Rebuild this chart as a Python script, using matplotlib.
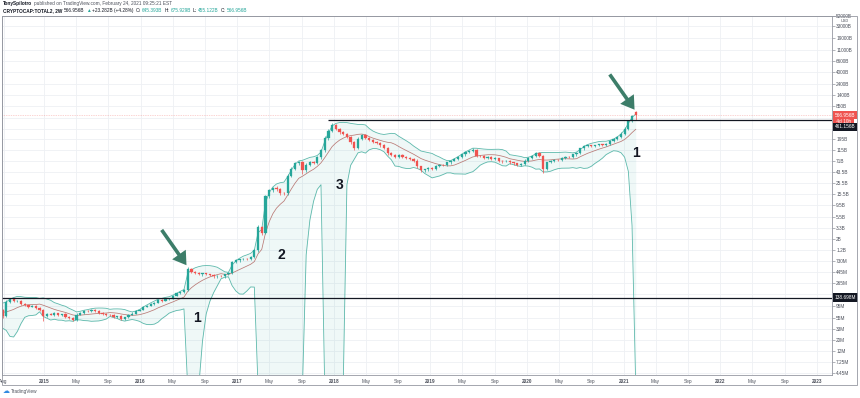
import numpy as np
import pandas as pd
import matplotlib
matplotlib.use('Agg')
import matplotlib.pyplot as plt
import matplotlib.dates as mdates
from matplotlib.patches import Rectangle
from matplotlib.ticker import NullLocator

plt.rcParams['font.family'] = ['Liberation Sans', 'DejaVu Sans']

# CRYPTOCAP:TOTAL2, 2W bars, values in billions USD
first_bar = '2014-07-28'
# history left of the visible range, only feeds the bands
pre_closes = [0.100, 0.090, 0.070, 0.050, 0.045, 0.050, 0.075, 0.090, 0.080]
closes = [
    0.060, 0.113, 0.128, 0.118, 0.121, 0.102, 0.098, 0.091, 0.094, 0.086,
    0.080, 0.060, 0.066, 0.064, 0.068, 0.063, 0.065, 0.058, 0.055, 0.049,
    0.064, 0.070, 0.076, 0.074, 0.079, 0.075, 0.070, 0.066, 0.063, 0.062,
    0.057, 0.059, 0.052, 0.056, 0.064, 0.067, 0.076, 0.080, 0.092, 0.096,
    0.104, 0.110, 0.124, 0.120, 0.128, 0.133, 0.152, 0.168, 0.182, 0.194,
    0.520, 0.450, 0.425, 0.410, 0.418, 0.400, 0.392, 0.372, 0.378, 0.365,
    0.400, 0.420, 0.700, 0.760, 0.790, 0.820, 0.800, 0.900, 1.20, 3.40,
    2.70, 14.0, 18.4, 20.5, 19.5, 16.5, 16.0, 36.0, 50.0, 63.0,
    66.0, 46.0, 60.0, 66.0, 64.0, 83.0, 114.0, 205.0, 282.0, 370.0,
    310.0, 265.0, 240.0, 215.0, 165.0, 130.0, 195.0, 235.0, 205.0, 185.0,
    170.0, 160.0, 143.0, 130.0, 100.0, 92.0, 86.0, 93.0, 84.0, 82.0,
    78.0, 72.0, 55.0, 46.0, 48.0, 52.0, 50.0, 57.0, 60.0, 58.0,
    66.0, 72.0, 76.0, 86.0, 95.0, 104.0, 112.0, 119.0, 90.0, 88.0,
    82.0, 85.0, 78.0, 80.0, 72.0, 69.0, 71.0, 66.0, 63.0, 60.0,
    62.0, 72.0, 82.0, 90.0, 100.0, 90.0, 50.0, 66.0, 70.0, 75.0,
    73.0, 82.0, 86.0, 84.0, 95.0, 100.0, 125.0, 137.0, 143.0, 140.0,
    145.0, 150.0, 148.0, 155.0, 179.0, 195.0, 215.0, 245.0, 310.0, 430.0,
    543.674, 566.956]
last_open = 645.393
# wick lengths beyond the body, percent
wick_up_pct = [
    4, 12, 5, 3, 4, 3, 5, 3, 4, 3,
    3, 4, 5, 3, 4, 3, 3, 4, 3, 4,
    5, 4, 3, 4, 3, 4, 3, 3, 4, 3,
    4, 3, 4, 3, 4, 5, 3, 4, 5, 4,
    3, 5, 4, 3, 4, 3, 5, 4, 3, 5,
    8, 4, 3, 3, 4, 3, 3, 4, 3, 3,
    3, 4, 6, 4, 3, 4, 3, 5, 6, 10,
    8, 9, 7, 6, 8, 6, 5, 9, 7, 6,
    8, 5, 6, 5, 5, 6, 7, 8, 6, 9,
    5, 4, 6, 5, 4, 6, 7, 5, 4, 4,
    4, 3, 4, 5, 3, 4, 3, 4, 3, 4,
    3, 4, 5, 3, 4, 3, 4, 3, 4, 3,
    4, 3, 4, 5, 4, 5, 4, 6, 3, 4,
    3, 4, 3, 4, 3, 3, 4, 3, 3, 4,
    3, 5, 4, 5, 6, 4, 5, 4, 3, 4,
    3, 4, 3, 4, 4, 5, 4, 5, 3, 4,
    3, 4, 3, 5, 4, 5, 4, 6, 5, 7,
    6, 4.73]
wick_dn_pct = [
    8, 4, 3, 5, 4, 3, 4, 5, 3, 4,
    4, 22, 4, 3, 5, 4, 3, 4, 5, 4,
    3, 4, 5, 3, 4, 3, 5, 4, 3, 5,
    4, 3, 6, 3, 4, 3, 4, 3, 3, 4,
    3, 4, 3, 5, 3, 4, 3, 4, 3, 4,
    4, 6, 5, 7, 8, 5, 6, 9, 7, 5,
    6, 4, 5, 4, 6, 4, 5, 4, 5, 6,
    12, 8, 7, 9, 6, 10, 8, 6, 7, 8,
    6, 15, 7, 6, 5, 6, 7, 8, 9, 6,
    8, 7, 6, 8, 9, 12, 6, 7, 8, 6,
    5, 6, 5, 7, 6, 5, 6, 5, 6, 5,
    6, 7, 9, 8, 6, 5, 6, 5, 4, 5,
    4, 5, 4, 5, 4, 5, 4, 5, 7, 5,
    6, 5, 4, 5, 6, 5, 4, 5, 6, 5,
    5, 4, 5, 4, 5, 6, 18, 5, 4, 5,
    4, 5, 4, 3, 4, 5, 4, 5, 4, 5,
    4, 5, 4, 5, 4, 5, 6, 5, 4, 6,
    5, 19.7]

bb_len, bb_mult = 10, 2
ath_level, ath_from = 461.156, '2017-12-11'
base_level = 0.138698
arrow_bars = [50, 171]
wave_labels = [('1', 0.235, 0.159), ('2', 0.336, 0.334), ('3', 0.407, 0.529), ('1', 0.764, 0.618)]

price_ticks = [52000, 33000, 19000, 11000, 6600, 4000, 2400, 1400, 850, 510, 305, 195, 115, 71,
               43.5, 25.5, 15.5, 9.5, 5.5, 3.3, 2, 1.2, 0.73, 0.445, 0.265, 0.16, 0.095, 0.055,
               0.033, 0.020, 0.012, 0.00725, 0.00445]
price_labels = ['52000B', '33000B', '19000B', '11000B', '6600B', '4000B', '2400B', '1400B', '850B',
                '', '', '195B', '115B', '71B', '43.5B', '25.5B', '15.5B', '9.5B', '5.5B', '3.3B',
                '2B', '1.2B', '730M', '445M', '265M', '', '95M', '55M', '33M', '20M', '12M',
                '7.25M', '4.45M']

GREEN, RED = '#26a69a', '#ef5350'
BAND, BASIS, ARROW = '#5cb8ab', '#b0635e', '#3c7d69'
TXT = '#4c505b'
Y_MIN, Y_MAX = 0.00406, 52500

W, H = 860, 398
def fx(px):
    return px / W
def fy(py):
    return 1 - py / H

fig = plt.figure(figsize=(W / 100, H / 100), dpi=100)
ax = fig.add_axes([fx(2), fy(375), fx(832) - fx(2), fy(16) - fy(375)])

n_pre = len(pre_closes)
all_close = np.array(pre_closes + closes)
dates = pd.date_range(pd.Timestamp(first_bar) - pd.Timedelta(days=14 * n_pre),
                      periods=len(all_close), freq='14D')
x_all = mdates.date2num(dates)
x = x_all[n_pre:]

c = np.array(closes)
o = np.r_[pre_closes[-1], c[:-1]]
o[-1] = last_open
top = np.maximum(o, c)
bot = np.minimum(o, c)
hi = top * (1 + np.array(wick_up_pct) / 100)
lo = bot * (1 - np.array(wick_dn_pct) / 100)
col = np.where(c >= o, GREEN, RED)

# bollinger bands; on the log scale a negative lower band drops just below the pane
s = pd.Series(all_close)
basis = s.rolling(bb_len).mean()
dev = s.rolling(bb_len).std(ddof=0)
upper = (basis + bb_mult * dev).to_numpy()
lower = (basis - bb_mult * dev).to_numpy()
lower_plot = np.maximum(lower, Y_MIN * 0.6)

ax.set_yscale('log')
ax.fill_between(x_all, lower_plot, upper, color=GREEN, alpha=0.07, lw=0, zorder=1)
ax.plot(x_all, upper, color=BAND, lw=0.6, zorder=2)
ax.plot(x_all, lower_plot, color=BAND, lw=0.6, zorder=2)
ax.plot(x_all, basis, color=BASIS, lw=0.55, alpha=0.85, zorder=2)

ax.vlines(x, lo, hi, colors=col, lw=0.5, zorder=3)
ax.bar(x, top - bot, bottom=bot, width=8.5, color=col, edgecolor=col, lw=0.2, zorder=4)

ax.axhline(c[-1], color=RED, lw=0.5, ls=(0, (1, 1.5)), alpha=0.5, zorder=2)
ax.hlines(ath_level, mdates.date2num(pd.Timestamp(ath_from)), mdates.date2num(pd.Timestamp('2024-01-01')),
          color='#131722', lw=0.9, zorder=5)
ax.axhline(base_level, color='#131722', lw=0.9, zorder=5)

ax.set_ylim(Y_MIN, Y_MAX)
ax.set_xlim(mdates.date2num(pd.Timestamp('2014-07-26')), mdates.date2num(pd.Timestamp('2023-02-27')))

ax.set_yticks(price_ticks, labels=price_labels)
ax.yaxis.set_minor_locator(NullLocator())
ax.yaxis.tick_right()

tick_dates = [pd.Timestamp('2014-08-01')]
tick_labels = ['Aug']
for yr in range(2015, 2024):
    for m, lab in [(1, str(yr)), (5, 'May'), (9, 'Sep')]:
        if yr == 2023 and m > 1:
            continue
        tick_dates.append(pd.Timestamp(yr, m, 1))
        tick_labels.append(lab)
ax.set_xticks(mdates.date2num(tick_dates), labels=tick_labels)
for t in ax.get_xticklabels():
    if t.get_text().isdigit():
        t.set_fontweight('bold')

ax.tick_params(axis='x', length=0, pad=2.6, labelsize=3.4, labelcolor=TXT)
ax.tick_params(axis='y', length=2, width=0.4, pad=1, labelsize=3.4, color='#787b86', labelcolor=TXT)
ax.grid(True, color='#eef0f4', lw=0.6)
ax.set_axisbelow(True)
for sp in ax.spines.values():
    sp.set_color('#9598a1')
    sp.set_linewidth(0.6)

fig.add_artist(Rectangle((fx(2), fy(385)), fx(857) - fx(2), fy(16) - fy(385),
                         transform=fig.transFigure, fill=False, ec='#9598a1', lw=0.6))

# price scale badges
def badge(val, text, fc, dy=0):
    ax.annotate(text, xy=(1, val), xycoords=('axes fraction', 'data'), xytext=(3, dy),
                textcoords='offset pixels', ha='left', va='center', fontsize=3.4, color='white',
                bbox=dict(boxstyle='square,pad=0.35', fc=fc, ec='none'),
                annotation_clip=False, zorder=10)

badge(c[-1], '566.956B', RED)
badge(c[-1], ' 4d 10h ', RED, dy=-6)
badge(ath_level, '461.156B', '#131722', dy=-7)
badge(base_level, '138.698M', '#131722')
ax.annotate('USD', xy=(1, 1), xycoords='axes fraction', xytext=(9, -5), textcoords='offset pixels',
            ha='left', va='center', fontsize=2.8, color=TXT, annotation_clip=False)

# arrows and wave counts
for i in arrow_bars:
    ax.annotate('', xy=(x[i], hi[i]), xytext=(-26, 37), textcoords='offset pixels',
                arrowprops=dict(arrowstyle='simple,head_length=9.4,head_width=12,tail_width=2.6',
                                color=ARROW, mutation_scale=1, shrinkA=0, shrinkB=1.5, lw=0),
                zorder=8)
for txt, xf, yf in wave_labels:
    ax.text(xf, yf, txt, transform=ax.transAxes, fontsize=10, weight='bold',
            ha='center', va='center', color='#131722', zorder=8)

# header
def chain(parts, x0, y0):
    t0, c0, w0 = parts[0]
    prev = fig.text(fx(x0), fy(y0), t0, color=c0, weight=w0, fontsize=3.4, va='center')
    for t, cc, w in parts[1:]:
        prev = ax.annotate(t, xy=(1, 0.5), xycoords=prev, xytext=(1.6, 0), textcoords='offset pixels',
                           va='center', ha='left', color=cc, weight=w, fontsize=3.4,
                           annotation_clip=False)

chain([('TonySpilotro', '#131722', 'bold'),
       ('published on TradingView.com, February 24, 2021 09:25:21 EST', TXT, 'normal')], 3, 4)
chain([('CRYPTOCAP:TOTAL2, 2W', '#131722', 'bold'),
       ('566.956B', '#131722', 'normal'), ('\u25b2', GREEN, 'normal'),
       ('+23.282B (+4.28%)', '#131722', 'normal'),
       ('O:', '#131722', 'normal'), ('645.393B', GREEN, 'normal'),
       ('H:', '#131722', 'normal'), ('675.929B', GREEN, 'normal'),
       ('L:', '#131722', 'normal'), ('455.122B', GREEN, 'normal'),
       ('C:', '#131722', 'normal'), ('566.956B', GREEN, 'normal')], 3, 10.5)

fig.text(fx(3), fy(391), '\u2601', color='#2f8ae0', fontsize=5, va='center', family='DejaVu Sans')
fig.text(fx(11), fy(391), 'TradingView', color=TXT, fontsize=3.4, va='center')

fig.savefig('out.png', dpi=100)
